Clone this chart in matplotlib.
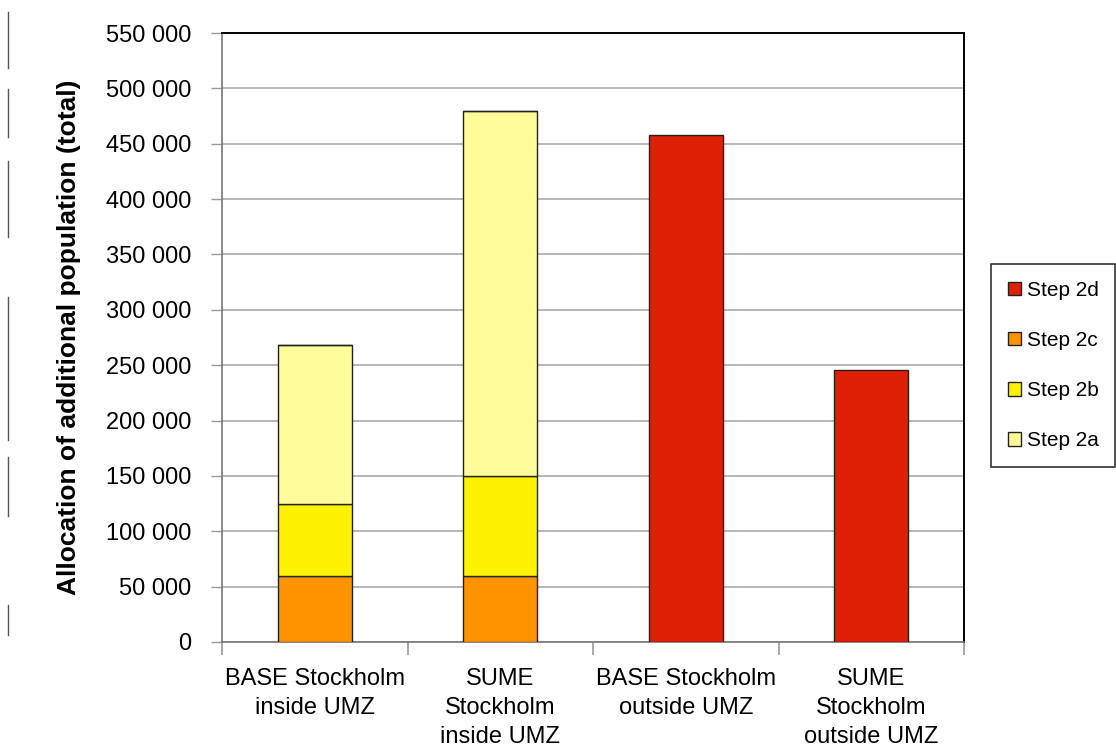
import matplotlib
matplotlib.use("Agg")
import matplotlib.pyplot as plt
from matplotlib.lines import Line2D
import numpy as np

plt.rcParams['font.family'] = ['Liberation Sans', 'DejaVu Sans']

categories = ["BASE Stockholm\ninside UMZ", "SUME\nStockholm\ninside UMZ",
              "BASE Stockholm\noutside UMZ", "SUME\nStockholm\noutside UMZ"]
step_2c = [60000, 60000, 0, 0]
step_2b = [65000, 90000, 0, 0]
step_2a = [143000, 330000, 0, 0]
step_2d = [0, 0, 458000, 246000]
yticks = list(range(0, 550001, 50000))

fig = plt.figure(figsize=(11.16, 7.47), dpi=100)
ax = fig.add_axes([222/1116, 1 - 642/747, (964-222)/1116, (642-33)/747])

x = np.arange(len(categories))
w = 0.4
ec = '#222222'
lw = 1.0
b1 = ax.bar(x, step_2c, w, color='#FF9400', edgecolor=ec, linewidth=lw, label='Step 2c', zorder=3)
bottom = np.array(step_2c)
b2 = ax.bar(x, step_2b, w, bottom=bottom, color='#FFF200', edgecolor=ec, linewidth=lw, label='Step 2b', zorder=3)
bottom = bottom + np.array(step_2b)
b3 = ax.bar(x, step_2a, w, bottom=bottom, color='#FFFC99', edgecolor=ec, linewidth=lw, label='Step 2a', zorder=3)
bottom = bottom + np.array(step_2a)
b4 = ax.bar(x, step_2d, w, bottom=bottom, color='#DD2006', edgecolor=ec, linewidth=lw, label='Step 2d', zorder=3)

ax.set_xlim(-0.5, len(categories) - 0.5)
ax.set_ylim(0, 550000)
ax.set_yticks(yticks)
ax.set_yticklabels([f"{v:,}".replace(",", " ") for v in yticks], fontsize=17)
ax.yaxis.grid(True, color='#aaaaaa', linewidth=1.2, zorder=0)
ax.set_axisbelow(True)

ax.set_xticks(x)
ax.set_xticklabels(categories, fontsize=17, linespacing=1.4)
ax.tick_params(axis='x', length=0, pad=19)
# category boundary ticks
ax.set_xticks(np.arange(-0.5, len(categories), 1.0), minor=True)
ax.tick_params(axis='x', which='minor', length=9, width=1.2, color='#999999', direction='out')
ax.tick_params(axis='y', length=8, width=1.0, color='#999999', direction='out', pad=14)

for s in ['top', 'right']:
    ax.spines[s].set_color('black')
    ax.spines[s].set_linewidth(1.4)
for s in ['left', 'bottom']:
    ax.spines[s].set_color('#777777')
    ax.spines[s].set_linewidth(1.2)

ax.set_ylabel("Allocation of additional population (total)", fontsize=19,
              fontweight='bold', labelpad=18)

leg = ax.legend(handles=[b4, b1, b2, b3], labels=['Step 2d', 'Step 2c', 'Step 2b', 'Step 2a'],
                loc='upper left', bbox_to_anchor=(991/1116, 1 - 264/747),
                bbox_transform=fig.transFigure, fontsize=15, frameon=True,
                fancybox=False, edgecolor='black', handlelength=0.62, handleheight=0.62,
                handletextpad=0.3, labelspacing=1.5, borderpad=0.8, borderaxespad=0)
leg.get_frame().set_linewidth(1.2)

# dashed border fragment at left edge
segs = [(12, 68), (89, 137), (161, 237), (297, 440), (457, 516), (605, 635)]
for y0, y1 in segs:
    fig.add_artist(Line2D([8/1116, 8/1116], [1 - y0/747, 1 - y1/747],
                          transform=fig.transFigure, color='#555555', linewidth=1.0))

fig.savefig("out.png", dpi=100)
